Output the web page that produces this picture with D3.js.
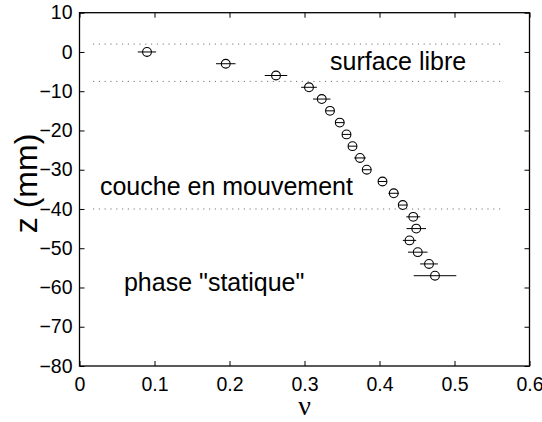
<!DOCTYPE html>
<html><head><meta charset="utf-8">
<script src="https://cdn.jsdelivr.net/npm/d3@7"></script>
<style>body{margin:0;background:#fff;} svg{display:block;}</style>
</head><body>
<script>
// Data
const zVals = [0,-3,-6,-9,-12,-15,-18,-21,-24,-27,-30,-33,-36,-39,-42,-45,-48,-51,-54,-57];
const nuVals = [0.090,0.195,0.262,0.306,0.323,0.334,0.347,0.356,0.364,0.374,0.383,0.404,0.419,0.431,0.445,0.449,0.440,0.451,0.466,0.474];
const nuErr = [0.0122,0.013,0.015,0.0105,0.0116,0.006,0.006,0.006,0.006,0.0078,0.006,0.006,0.0071,0.006,0.0093,0.013,0.0089,0.013,0.0118,0.0284];
const xTicks = [0,0.1,0.2,0.3,0.4,0.5,0.6];
const yTicks = [10,0,-10,-20,-30,-40,-50,-60,-70,-80];
const dottedZ = [2,-7.5,-40];
const dottedX = [0.018,0.565];
const labelText = ["surface libre","couche en mouvement","phase \"statique\""];
const labelNu = [0.334,0.0273,0.0593];
const labelZ = [-4.6,-36.4,-60.9];

const W=542,H=422;
const m={l:79.5,r:12.5,t:12.7,b:56};
const svg=d3.select("body").append("svg").attr("width",W).attr("height",H);
const x=d3.scaleLinear().domain([0,0.6]).range([m.l,W-m.r]);
const y=d3.scaleLinear().domain([-80,10]).range([H-m.b,m.t]);
const font="'Liberation Sans', Arial, Helvetica, sans-serif";

// dotted lines
svg.append("g").selectAll("line").data(dottedZ).join("line")
  .attr("x1",x(dottedX[0])).attr("x2",x(dottedX[1]))
  .attr("y1",d=>y(d)).attr("y2",d=>y(d))
  .attr("stroke","#777").attr("stroke-width",1).attr("stroke-dasharray","1.2,4.6");

// error bars + markers
const pts=zVals.map((z,i)=>({z,nu:nuVals[i],e:nuErr[i]}));
svg.append("g").selectAll("line").data(pts).join("line")
  .attr("x1",d=>x(d.nu-d.e)).attr("x2",d=>x(d.nu+d.e))
  .attr("y1",d=>y(d.z)).attr("y2",d=>y(d.z))
  .attr("stroke","#000").attr("stroke-width",1);
svg.append("g").selectAll("circle").data(pts).join("circle")
  .attr("cx",d=>x(d.nu)).attr("cy",d=>y(d.z)).attr("r",4.4)
  .attr("fill","none").attr("stroke","#000").attr("stroke-width",1.1);

// axes (ticks inside on all four sides)
const fmt=d3.format("");
const tl=-5;
const gx=svg.append("g").attr("transform",`translate(0,${H-m.b})`)
  .call(d3.axisBottom(x).tickValues(xTicks).tickSizeInner(tl).tickSizeOuter(0).tickPadding(11).tickFormat(d=>fmt(d)));
const gxt=svg.append("g").attr("transform",`translate(0,${m.t})`)
  .call(d3.axisTop(x).tickValues(xTicks).tickSizeInner(tl).tickSizeOuter(0).tickFormat(""));
const gy=svg.append("g").attr("transform",`translate(${m.l},0)`)
  .call(d3.axisLeft(y).tickValues(yTicks).tickSizeInner(tl).tickSizeOuter(0).tickPadding(7).tickFormat(d=>fmt(d)));
const gyr=svg.append("g").attr("transform",`translate(${W-m.r},0)`)
  .call(d3.axisRight(y).tickValues(yTicks).tickSizeInner(tl).tickSizeOuter(0).tickFormat(""));
[gx,gxt,gy,gyr].forEach(g=>{
  g.select(".domain").remove();
  g.selectAll(".tick line").attr("stroke","#000").attr("stroke-width",1);
  g.selectAll("text").attr("font-family",font).attr("font-size",19.5).attr("fill","#000");
});
svg.append("rect").attr("x",m.l).attr("y",m.t).attr("width",W-m.l-m.r).attr("height",H-m.t-m.b)
  .attr("fill","none").attr("stroke","#000").attr("stroke-width",1.3);

// annotations
svg.append("g").selectAll("text").data(labelText).join("text")
  .attr("x",(d,i)=>x(labelNu[i])).attr("y",(d,i)=>y(labelZ[i]))
  .attr("font-family",font).attr("font-size",25).attr("fill","#000").text(d=>d);

// axis labels
svg.append("text").attr("x",x(0.3)).attr("y",415).attr("text-anchor","middle")
  .attr("font-family","'Liberation Serif', 'DejaVu Serif', serif").attr("font-size",28).text("ν");
svg.append("text").attr("transform",`translate(37,${y(-33.5)}) rotate(-90)`).attr("text-anchor","middle")
  .attr("font-family",font).attr("font-size",32).text("z (mm)");
</script>
</body></html>
